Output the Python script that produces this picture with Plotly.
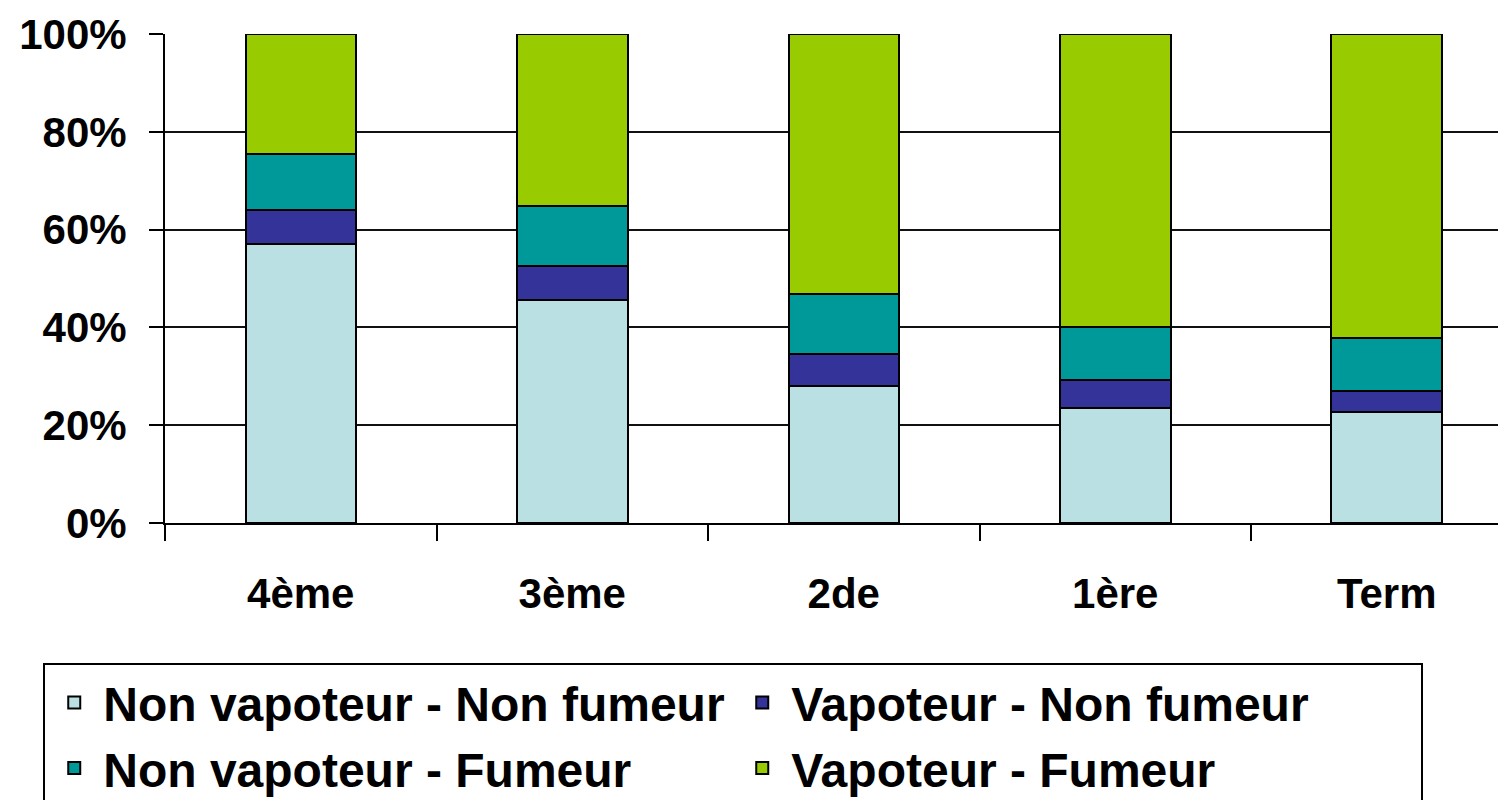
import plotly.graph_objects as go

categories = ["4ème", "3ème", "2de", "1ère", "Term"]
non_vap_non_fum = [57.1, 45.7, 28.0, 23.6, 22.7]
vap_non_fum = [7.0, 6.9, 6.6, 5.7, 4.3]
non_vap_fum = [11.4, 12.3, 12.2, 10.7, 10.8]
vap_fum = [24.5, 35.1, 53.2, 60.0, 62.2]

series_names = ["Non vapoteur - Non fumeur", "Vapoteur - Non fumeur",
                "Non vapoteur - Fumeur", "Vapoteur - Fumeur"]
series_values = [non_vap_non_fum, vap_non_fum, non_vap_fum, vap_fum]
colors = ["#BBE0E3", "#333399", "#009999", "#99CC00"]

# page body has an 8px default margin; compensate
OFF = 8
W, H = 1506 - OFF, 800 - OFF
ml, mt = 164.5 - OFF, 33.5 - OFF
mb = H - (523 - OFF)
plot_w = W - ml
plot_h = H - mt - mb
cat_w = 271.6

fig = go.Figure()
for name, vals, col in zip(series_names, series_values, colors):
    fig.add_trace(go.Bar(
        x=categories, y=vals, name=name,
        marker=dict(color=col, line=dict(color="black", width=2)),
        width=0.407,
    ))

font_main = "Liberation Sans, Arial, sans-serif"
fig.update_layout(
    width=W, height=H,
    barmode="stack",
    plot_bgcolor="white", paper_bgcolor="white",
    margin=dict(l=ml, r=0, t=mt, b=mb, autoexpand=False),
    font=dict(family=font_main, color="black"),
    xaxis=dict(
        type="category",
        range=[-0.5, -0.5 + plot_w / cat_w],
        showline=True, linecolor="black", linewidth=2,
        ticks="outside", tickson="boundaries", ticklen=16,
        tickwidth=2, tickcolor="black",
        showgrid=False,
        tickfont=dict(size=42, family=font_main, weight="bold"),
        ticklabelstandoff=33,
    ),
    yaxis=dict(
        range=[0, 100],
        tickvals=[0, 20, 40, 60, 80, 100],
        ticktext=["0%", "20%", "40%", "60%", "80%", "100%"],
        showline=True, linecolor="black", linewidth=2,
        ticks="outside", ticklen=14, tickwidth=2, tickcolor="black",
        showgrid=True, gridcolor="#111111", gridwidth=2,
        zeroline=False,
        tickfont=dict(size=42, family=font_main, weight="bold"),
        ticklabelstandoff=14,
    ),
    legend=dict(
        orientation="h",
        traceorder="normal",
        x=(42.7 - OFF - ml) / plot_w,
        xanchor="left",
        y=((523 - OFF) - (663 - OFF)) / plot_h,
        yanchor="top",
        bgcolor="white",
        bordercolor="black", borderwidth=2,
        itemwidth=48,
        entrywidth=625, entrywidthmode="pixels",
        font=dict(size=48, family=font_main, weight="bold"),
    ),
)

fig.write_html("out.html")
